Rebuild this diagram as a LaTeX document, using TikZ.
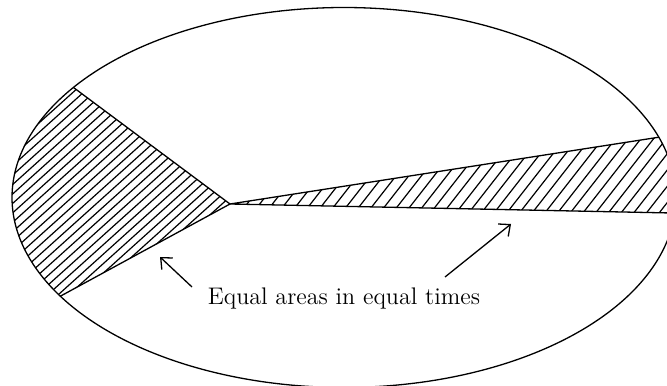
\documentclass[tikz,border=0pt]{standalone}
\usetikzlibrary{arrows.meta}
\begin{document}
\begin{tikzpicture}[x=0.5pt,y=0.5pt,
  outline/.style={line width=0.65pt},
  hatchline/.style={line width=0.6pt},
  pointer/.style={line width=0.65pt,-{Straight Barb[length=4.5pt,width=8pt]}},
  caption/.style={font=\fontsize{12}{14}\selectfont, inner sep=0pt}]
\clip (0,0) rectangle (667,385);
\coordinate (C) at (344,187.5);
\coordinate (F) at (230,181);
\coordinate (LU) at ({344+332*cos(144.6)},{187.5+190*sin(144.6)});
\coordinate (LL) at ({344+332*cos(211.3)},{187.5+190*sin(211.3)});
\coordinate (RU) at ({344+332*cos(18.5)},{187.5+190*sin(18.5)});
\coordinate (RL) at ({344+332*cos(-4.7)},{187.5+190*sin(-4.7)});
% left hatched sector
\begin{scope}
  \clip (F) -- (LU) -- plot[domain=144.6:211.3,samples=60] ({344+332*cos(\x)},{187.5+190*sin(\x)}) -- cycle;
  \foreach \k in {-40,...,20} \draw[hatchline] ({\k*10.5},0) -- ++({700*cos(42)},{700*sin(42)});
\end{scope}
% right hatched sector
\begin{scope}
  \clip (F) -- (RL) -- plot[domain=-4.7:18.5,samples=40] ({344+332*cos(\x)},{187.5+190*sin(\x)}) -- cycle;
  \foreach \k in {-5,...,50} \draw[hatchline] ({\k*12.7+4},0) -- ++({500*cos(52)},{500*sin(52)});
\end{scope}
% ellipse
\draw[outline] plot[domain=0:360,samples=240,smooth cycle] ({344+332*cos(\x)},{187.5+190*sin(\x)});
% sector edges
\draw[outline] (LU) -- (F) -- (LL);
\draw[outline] (RU) -- (F) -- (RL);
% label and pointers
\node[caption] (lbl) at (344,87) {Equal areas in equal times};
\coordinate (lt) at (192,98);
\coordinate (lh) at (160,128);
\coordinate (rt) at (445,108);
\coordinate (rh) at (511,161);
\draw[pointer] (lt) -- (lh);
\draw[pointer] (rt) -- (rh);
\end{tikzpicture}
\end{document}
